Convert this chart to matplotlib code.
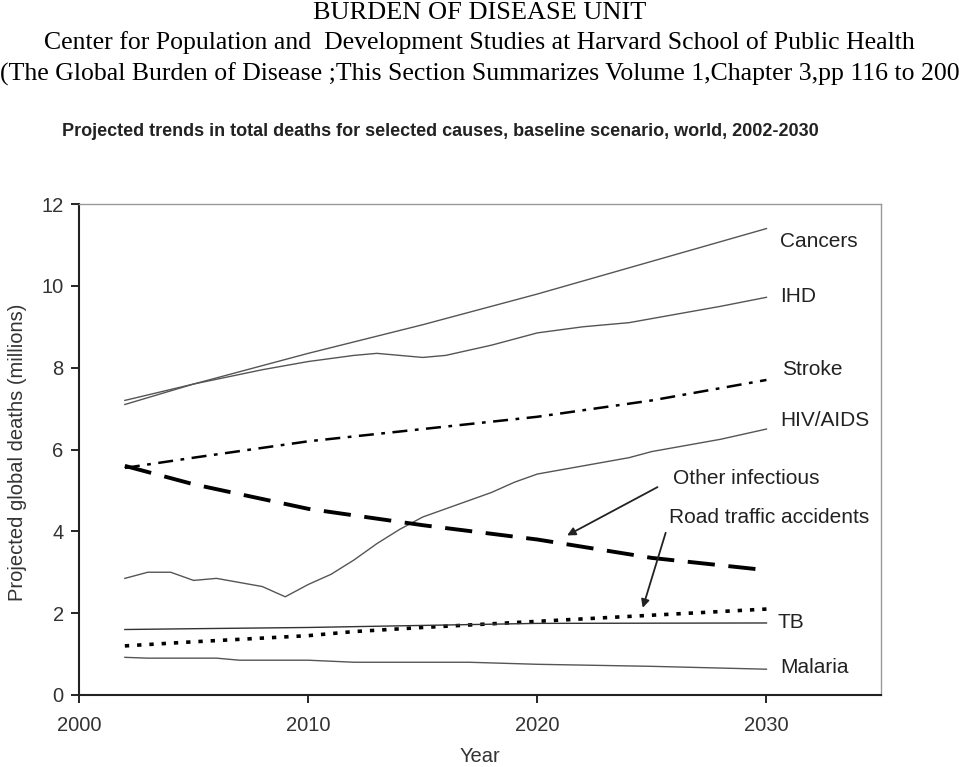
import matplotlib.pyplot as plt

# values (millions of deaths)
cancer_years = [2002, 2005, 2010, 2015, 2020, 2025, 2030]
cancers = [7.2, 7.6, 8.35, 9.05, 9.8, 10.6, 11.4]

ihd_years = [2002, 2005, 2008, 2010, 2012, 2013, 2015, 2016, 2018, 2020, 2022, 2024, 2026, 2028, 2030]
ihd = [7.1, 7.6, 7.95, 8.15, 8.3, 8.35, 8.25, 8.3, 8.55, 8.85, 9.0, 9.1, 9.3, 9.5, 9.72]

stroke_years = [2002, 2005, 2010, 2015, 2020, 2025, 2030]
stroke = [5.55, 5.8, 6.2, 6.5, 6.8, 7.2, 7.7]

hiv_years = [2002, 2003, 2004, 2005, 2006, 2007, 2008, 2009, 2010, 2011, 2012, 2013,
             2014, 2015, 2016, 2017, 2018, 2019, 2020, 2022, 2024, 2025, 2026, 2028, 2030]
hiv = [2.85, 3.0, 3.0, 2.8, 2.85, 2.75, 2.65, 2.4, 2.7, 2.95, 3.3, 3.7,
       4.05, 4.35, 4.55, 4.75, 4.95, 5.2, 5.4, 5.6, 5.8, 5.95, 6.05, 6.25, 6.5]

other_years = [2002, 2005, 2010, 2015, 2020, 2025, 2030]
other_inf = [5.6, 5.15, 4.55, 4.15, 3.8, 3.35, 3.05]

road_years = [2002, 2005, 2010, 2012, 2015, 2020, 2025, 2030]
road = [1.2, 1.3, 1.45, 1.55, 1.65, 1.8, 1.95, 2.1]

tb_years = [2002, 2005, 2010, 2015, 2020, 2030]
tb = [1.6, 1.62, 1.65, 1.7, 1.75, 1.76]

malaria_years = [2002, 2003, 2006, 2007, 2010, 2012, 2017, 2020, 2025, 2030]
malaria = [0.92, 0.9, 0.9, 0.85, 0.85, 0.8, 0.8, 0.75, 0.7, 0.63]

plt.rcParams['font.family'] = ['Liberation Sans', 'DejaVu Sans']

fig = plt.figure(figsize=(9.59, 7.67), dpi=100)

serif = ['Liberation Serif', 'DejaVu Serif']
fig.text(0.5, 0.983, "BURDEN OF DISEASE UNIT", family=serif, fontsize=19, ha='center', va='center')
fig.text(0.5, 0.945, "Center for Population and  Development Studies at Harvard School of Public Health",
         family=serif, fontsize=18.5, ha='center', va='center')
fig.text(0.0, 0.903, "(The Global Burden of Disease ;This Section Summarizes Volume 1,Chapter 3,pp 116 to 200",
         family=serif, fontsize=18.5, ha='left', va='center')
fig.text(0.065, 0.829, "Projected trends in total deaths for selected causes, baseline scenario, world, 2002-2030",
         fontsize=13, fontweight='bold', ha='left', va='center', color='#222222')

ax = fig.add_axes([0.0824, 0.0939, 0.8363, 0.6401])

ax.plot(cancer_years, cancers, color='#555555', lw=1.0)
ax.plot(ihd_years, ihd, color='#555555', lw=1.0)
ax.plot(stroke_years, stroke, color='black', lw=1.8, linestyle=(0, (6, 3, 1.5, 3)))
ax.plot(hiv_years, hiv, color='#555555', lw=1.0)
ax.plot(other_years, other_inf, color='black', lw=2.8, linestyle=(0, (7, 3.5)))
ax.plot(road_years, road, color='black', lw=2.6, linestyle=(0, (1.2, 2.2)))
ax.plot(tb_years, tb, color='#333333', lw=1.0)
ax.plot(malaria_years, malaria, color='#555555', lw=1.0)

lab = dict(fontsize=15, color='#222222', va='center', ha='left')
ax.text(2030.6, 11.08, "Cancers", **lab)
ax.text(2030.6, 9.73, "IHD", **lab)
ax.text(2030.7, 7.95, "Stroke", **lab)
ax.text(2030.6, 6.7, "HIV/AIDS", **lab)
ax.text(2030.5, 1.76, "TB", **lab)
ax.text(2030.6, 0.66, "Malaria", **lab)

ax.annotate("Other infectious", xy=(2021.3, 3.9), xytext=(2025.9, 5.3),
            fontsize=15, color='#222222', va='center', ha='left',
            arrowprops=dict(arrowstyle='-|>', color='#222222', lw=1.3, shrinkA=10, shrinkB=0,
                            mutation_scale=12, relpos=(0.0, 0.45)))
ax.annotate("Road traffic accidents", xy=(2024.6, 2.13), xytext=(2025.75, 4.33),
            fontsize=15, color='#222222', va='center', ha='left',
            arrowprops=dict(arrowstyle='-|>', color='#222222', lw=1.3, shrinkA=2, shrinkB=0,
                            mutation_scale=12, relpos=(0.0, 0.3)))

ax.set_xlim(2000, 2035)
ax.set_ylim(0, 12)
ax.set_xticks([2000, 2010, 2020, 2030])
ax.set_yticks([0, 2, 4, 6, 8, 10, 12])
ax.tick_params(direction='out', length=6, width=1.2, labelsize=14.5, labelcolor='#333333', pad=9)
ax.tick_params(axis='y', pad=5)

for s in ['top', 'right']:
    ax.spines[s].set_color('#999999')
    ax.spines[s].set_linewidth(1.0)
for s in ['left', 'bottom']:
    ax.spines[s].set_color('#222222')
    ax.spines[s].set_linewidth(1.5)

ax.set_xlabel("Year", fontsize=14.5, color='#333333', va='center')
ax.xaxis.set_label_coords(0.5, -0.126)
ax.set_ylabel("Projected global deaths (millions)", fontsize=14.5, color='#333333', va='center')
ax.yaxis.set_label_coords(-0.077, 0.495)

fig.savefig("out.png", dpi=100)
